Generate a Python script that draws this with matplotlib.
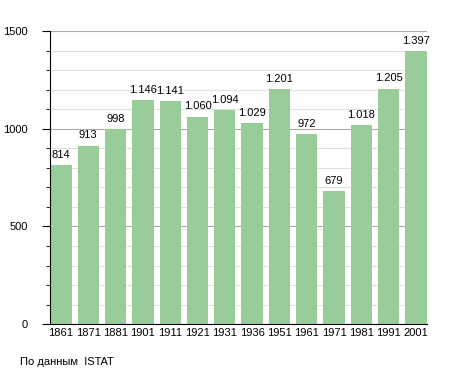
import numpy as np
import matplotlib.pyplot as plt

plt.rcParams['font.family'] = ['Liberation Sans', 'DejaVu Sans']

years = ['1861', '1871', '1881', '1901', '1911', '1921', '1931',
         '1936', '1951', '1961', '1971', '1981', '1991', '2001']
population = [814, 913, 998, 1146, 1141, 1060, 1094,
              1029, 1201, 972, 679, 1018, 1205, 1397]


def fmt(v):
    return '{:,}'.format(v).replace(',', '.')


fig = plt.figure(figsize=(4.55, 3.73), dpi=100)
ax = fig.add_axes([0.110, 0.131, 0.828, 0.786])

x = np.arange(len(years))
ax.bar(x, population, width=0.78, color='#98cc98', zorder=2)

for xi, v in zip(x, population):
    ax.text(xi, v + 28, fmt(v), ha='center', va='bottom', fontsize=8)

ax.set_xlim(-0.4, len(years) - 0.6)
ax.set_ylim(0, 1500)
ax.set_xticks(x)
ax.set_xticklabels(years, fontsize=8)
ax.set_yticks([0, 500, 1000, 1500])
ax.set_yticks(np.arange(0, 1501, 100), minor=True)
ax.tick_params(axis='y', labelsize=8, length=6, pad=10)
ax.tick_params(axis='y', which='minor', length=3)
ax.tick_params(axis='x', length=0, pad=3)

ax.grid(axis='y', which='minor', color='#e0e0e0', linewidth=0.8, zorder=0)
ax.grid(axis='y', which='major', color='#aaaaaa', linewidth=0.8, zorder=0)

ax.spines['top'].set_visible(False)
ax.spines['right'].set_visible(False)

fig.text(0.045, 0.022, 'По данным  ISTAT', fontsize=8)

fig.savefig('out.png', dpi=100)
